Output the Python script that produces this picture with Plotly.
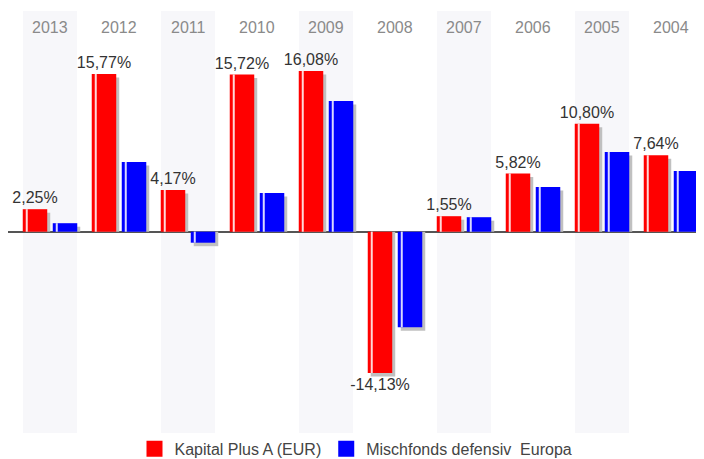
import plotly.graph_objects as go

years = ["2013", "2012", "2011", "2010", "2009", "2008", "2007", "2006", "2005", "2004"]
fund_values = [2.25, 15.77, 4.17, 15.72, 16.08, -14.13, 1.55, 5.82, 10.80, 7.64]
peer_values = [0.85, 6.97, -1.10, 3.87, 13.07, -9.55, 1.45, 4.47, 7.97, 6.07]
fund_labels = ["2,25%", "15,77%", "4,17%", "15,72%", "16,08%", "-14,13%", "1,55%", "5,82%", "10,80%", "7,64%"]
series_names = ["Kapital Plus A (EUR)", "Mischfonds defensiv\u00a0 Europa"]

FONT = "Liberation Sans, Arial, sans-serif"
RED = "#ff0000"
BLUE = "#0000ff"
SHADOW = "#c0c0c0"

px_unit = 1 / 69.0
bar_w = 0.355
offsets = [-0.395, 0.04]
shadow_dx = 3 * px_unit
shadow_dy = 0.35
stripe_dx = 3 * px_unit
stripe_w = 2 * px_unit

idx = list(range(len(years)))
fig = go.Figure()

series = [(fund_values, RED), (peer_values, BLUE)]

# shadows
for (vals, col), off in zip(series, offsets):
    fig.add_trace(go.Bar(
        x=idx, y=[v - shadow_dy for v in vals], offset=off + shadow_dx, width=bar_w,
        marker=dict(color=SHADOW, line=dict(width=0)), showlegend=False, hoverinfo="skip"))

# main bars
for k, ((vals, col), off) in enumerate(zip(series, offsets)):
    kw = {}
    if k == 0:
        kw = dict(text=fund_labels, textposition="outside", constraintext="none",
                  cliponaxis=False,
                  textfont=dict(family=FONT, size=16, color="#333333"))
    fig.add_trace(go.Bar(
        x=idx, y=vals, offset=off, width=bar_w, name=series_names[k],
        marker=dict(color=col, line=dict(width=0)), showlegend=False, hoverinfo="skip", **kw))

# highlight stripes
for (vals, col), off in zip(series, offsets):
    fig.add_trace(go.Bar(
        x=idx, y=vals, offset=off + stripe_dx, width=stripe_w,
        marker=dict(color="rgba(255,255,255,0.85)", line=dict(width=0)),
        showlegend=False, hoverinfo="skip"))

# legend entries
for name, col in zip(series_names, [RED, BLUE]):
    fig.add_trace(go.Scatter(x=[None], y=[None], mode="markers", name=name,
                             marker=dict(symbol="square", size=18, color=col)))

# alternating background bands
shapes = []
for i in idx:
    if i % 2 == 0:
        shapes.append(dict(type="rect", xref="x", yref="paper", x0=i - 0.39, x1=i + 0.39,
                           y0=0, y1=1, fillcolor="#f7f7fa", line=dict(width=0), layer="below"))

annotations = []
for i, yr in zip(idx, years):
    annotations.append(dict(x=i, y=1, xref="x", yref="paper", text=yr, showarrow=False,
                            yanchor="top", yshift=-6,
                            font=dict(family=FONT, size=16, color="#8a8a8a")))

fig.update_layout(
    width=696, height=451,
    margin=dict(l=0, r=0, t=3, b=26, autoexpand=False),
    paper_bgcolor="white", plot_bgcolor="white",
    barmode="overlay",
    shapes=shapes, annotations=annotations,
    showlegend=True,
    legend=dict(orientation="h", x=0.5, xanchor="center", y=0.003, yanchor="top",
                font=dict(family=FONT, size=16, color="#444444"),
                bgcolor="rgba(0,0,0,0)", itemclick=False, itemdoubleclick=False),
    xaxis=dict(range=[-42 * px_unit, 9 + 33 * px_unit], showticklabels=False, showgrid=False,
               zeroline=False, showline=False, ticks="", fixedrange=True),
    yaxis=dict(range=[-20.13, 22.07], showticklabels=False, showgrid=False,
               zeroline=True, zerolinecolor="#555555", zerolinewidth=2,
               showline=False, ticks="", fixedrange=True),
    hovermode=False,
)

fig.write_html("out.html", config={"displayModeBar": False})
